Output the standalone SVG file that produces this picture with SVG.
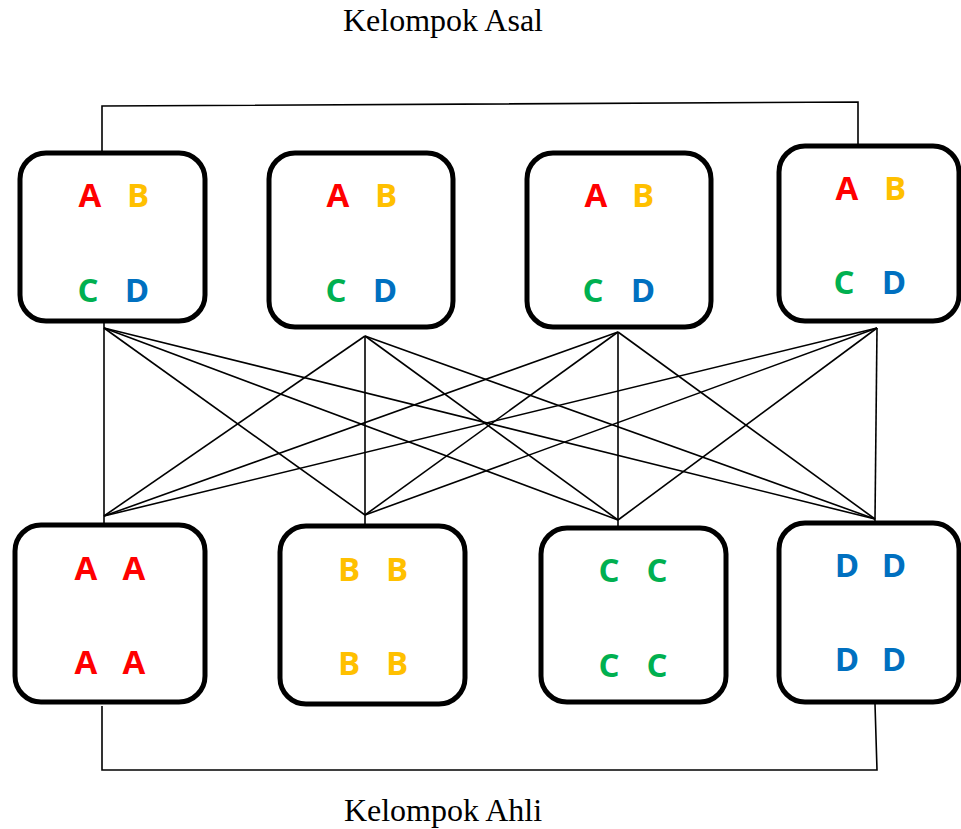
<svg xmlns="http://www.w3.org/2000/svg" width="961" height="829" viewBox="0 0 961 829">
<style>
.box{fill:#fff;stroke:#000;stroke-width:5}
.ln{stroke:#000;stroke-width:1.6;fill:none}
.t{font-family:"Liberation Serif","Times New Roman",serif;font-size:32px;fill:#000;text-anchor:middle}
.l{font-family:"Open Sans","Liberation Sans",sans-serif;font-weight:bold;font-size:33px;text-anchor:middle}
.a{fill:#ff0000}.b{fill:#ffc000}.c{fill:#00b050}.d{fill:#0070c0}
</style>
<rect width="961" height="829" fill="#fff"/>
<text class="t" x="443" y="31">Kelompok Asal</text>
<text class="t" x="443" y="821">Kelompok Ahli</text>
<g id="connectors">
<polyline class="ln" points="102,151 102,106 858,102 858,146"/>
<polyline class="ln" points="102,706 102,770 877,770 875,704"/>
<line class="ln" x1="104" y1="323" x2="104" y2="328"/>
<line class="ln" x1="104" y1="516" x2="104" y2="524"/>
<line class="ln" x1="365" y1="515" x2="365" y2="527"/>
<line class="ln" x1="618" y1="520" x2="618" y2="528"/>
<line class="ln" x1="875" y1="519" x2="875" y2="523"/>
<line class="ln" x1="104" y1="328" x2="104" y2="516"/>
<line class="ln" x1="104" y1="328" x2="365" y2="515"/>
<line class="ln" x1="104" y1="328" x2="618" y2="520"/>
<line class="ln" x1="104" y1="328" x2="875" y2="519"/>
<line class="ln" x1="365" y1="336" x2="104" y2="516"/>
<line class="ln" x1="365" y1="336" x2="365" y2="515"/>
<line class="ln" x1="365" y1="336" x2="618" y2="520"/>
<line class="ln" x1="365" y1="336" x2="875" y2="519"/>
<line class="ln" x1="618" y1="332" x2="104" y2="516"/>
<line class="ln" x1="618" y1="332" x2="365" y2="515"/>
<line class="ln" x1="618" y1="332" x2="618" y2="520"/>
<line class="ln" x1="618" y1="332" x2="875" y2="519"/>
<line class="ln" x1="877" y1="328" x2="104" y2="516"/>
<line class="ln" x1="877" y1="328" x2="365" y2="515"/>
<line class="ln" x1="877" y1="328" x2="618" y2="520"/>
<line class="ln" x1="877" y1="328" x2="875" y2="519"/>
</g>
<g id="asal1">
<rect class="box" x="20" y="153" width="185" height="168" rx="26"/>
<text class="l a" x="90" y="207">A</text><text class="l b" x="138" y="207">B</text>
<text class="l c" x="88" y="302">C</text><text class="l d" x="137" y="302">D</text>
</g>
<g id="asal2">
<rect class="box" x="269" y="153" width="184" height="174" rx="26"/>
<text class="l a" x="338" y="207">A</text><text class="l b" x="386" y="207">B</text>
<text class="l c" x="336" y="302">C</text><text class="l d" x="385" y="302">D</text>
</g>
<g id="asal3">
<rect class="box" x="527" y="153" width="184" height="174" rx="26"/>
<text class="l a" x="596" y="207">A</text><text class="l b" x="643" y="207">B</text>
<text class="l c" x="593" y="302">C</text><text class="l d" x="643" y="302">D</text>
</g>
<g id="asal4">
<rect class="box" x="779" y="146" width="180" height="175" rx="26"/>
<text class="l a" x="847" y="200">A</text><text class="l b" x="895" y="200">B</text>
<text class="l c" x="844" y="294">C</text><text class="l d" x="894" y="294">D</text>
</g>
<g id="ahli1">
<rect class="box" x="15" y="525" width="190" height="177" rx="26"/>
<text class="l a" x="86" y="580">A</text><text class="l a" x="134" y="580">A</text>
<text class="l a" x="86" y="674">A</text><text class="l a" x="134" y="674">A</text>
</g>
<g id="ahli2">
<rect class="box" x="280" y="526" width="185" height="178" rx="26"/>
<text class="l b" x="349" y="581">B</text><text class="l b" x="397" y="581">B</text>
<text class="l b" x="349" y="675">B</text><text class="l b" x="397" y="675">B</text>
</g>
<g id="ahli3">
<rect class="box" x="541" y="528" width="185" height="174" rx="26"/>
<text class="l c" x="609" y="582">C</text><text class="l c" x="657" y="582">C</text>
<text class="l c" x="609" y="677">C</text><text class="l c" x="657" y="677">C</text>
</g>
<g id="ahli4">
<rect class="box" x="779" y="523" width="180" height="179" rx="26"/>
<text class="l d" x="847" y="577">D</text><text class="l d" x="894" y="577">D</text>
<text class="l d" x="847" y="671">D</text><text class="l d" x="894" y="671">D</text>
</g>
</svg>
